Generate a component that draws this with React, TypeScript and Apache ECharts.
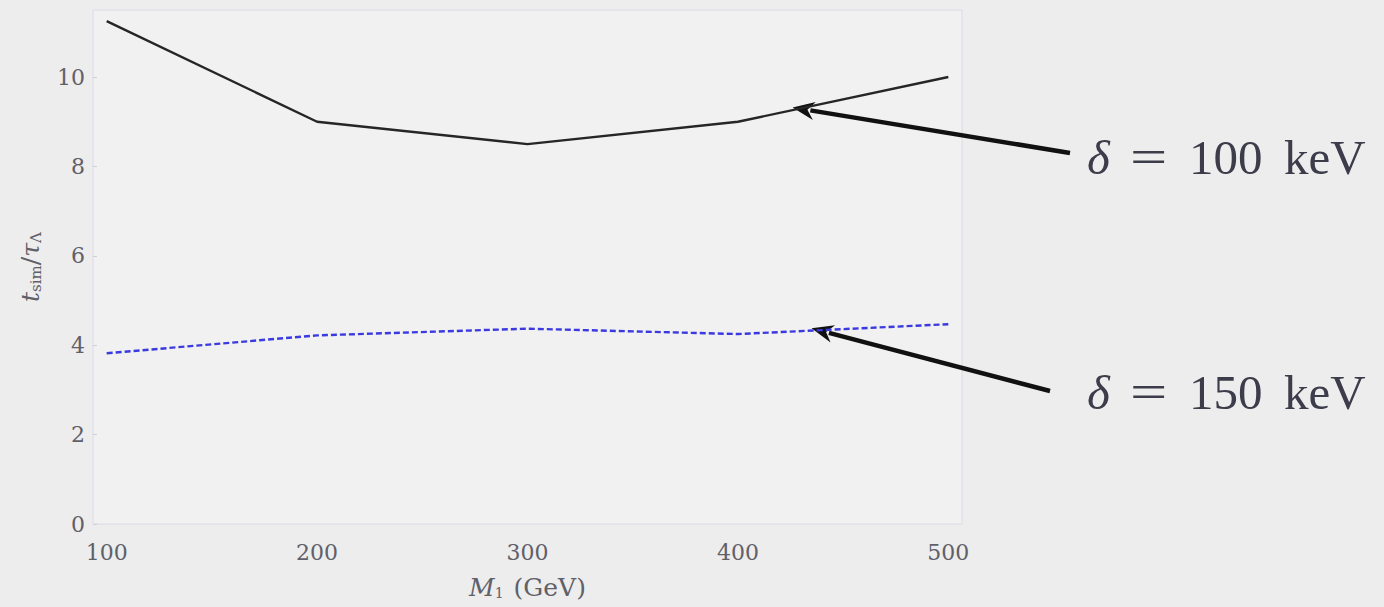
import React, { useEffect, useRef } from "react";
import * as echarts from "echarts";

const massValues = [100, 200, 300, 400, 500];
const delta100 = [11.25, 9.0, 8.5, 9.0, 10.0];
const delta150 = [3.82, 4.22, 4.37, 4.25, 4.47];
const xTickLabels = [100, 200, 300, 400, 500];
const yTickLabels = [0, 2, 4, 6, 8, 10];
const labelTop = "100 keV";
const labelBottom = "150 keV";
// arrow tips in data coordinates (point on the curves)
const arrowTipTop = [426, 9.32];
const arrowTipBottom = [435, 4.38];

const SERIF = "'Liberation Serif', 'DejaVu Serif', serif";
const TICK_FONT = "'DejaVu Serif', serif";
const TEXT_COLOR = "#3c3c4a";
const AXIS_TEXT = "#606068";

export default function App() {
  const ref = useRef<HTMLDivElement>(null);

  useEffect(() => {
    if (!ref.current) return;
    const chart = echarts.init(ref.current, undefined, { renderer: "svg" });
    const pairs = (ys: number[]) => massValues.map((x, i) => [x, ys[i]]);

    chart.setOption({
      animation: false,
      backgroundColor: "#ededed",
      grid: { left: 93, right: 422, top: 10, bottom: 83, show: true, backgroundColor: "#f1f1f1", borderColor: "#dadae6", borderWidth: 1 },
      xAxis: {
        type: "value",
        min: 93.5,
        max: 506.5,
        axisLine: { show: false },
        splitLine: { show: false },
        axisTick: { show: false },
        axisLabel: {
          customValues: xTickLabels,
          fontFamily: TICK_FONT,
          fontSize: 22,
          color: AXIS_TEXT,
          margin: 17,
        },
        name: "{i|M}{s|1} (GeV)",
        nameLocation: "middle",
        nameGap: 51,
        nameTextStyle: {
          fontFamily: TICK_FONT,
          fontSize: 25,
          color: AXIS_TEXT,
          rich: {
            i: { fontFamily: TICK_FONT, fontStyle: "italic", fontSize: 25, color: AXIS_TEXT },
            s: { fontFamily: TICK_FONT, fontSize: 14, color: AXIS_TEXT, verticalAlign: "bottom", padding: [10, 2, 0, 0] },
          },
        },
      },
      yAxis: {
        type: "value",
        min: 0,
        max: 11.5,
        axisLine: { show: false },
        splitLine: { show: false },
        axisTick: { show: true, inside: true, length: 4, customValues: yTickLabels, lineStyle: { color: "#cfcfdc" } },
        axisLabel: {
          customValues: yTickLabels,
          fontFamily: TICK_FONT,
          fontSize: 22,
          color: AXIS_TEXT,
          margin: 8,
        },
        name: "{i|t}{s|sim}{n|/}{i|τ}{s|Λ}",
        nameLocation: "middle",
        nameGap: 50,
        nameRotate: 90,
        nameTextStyle: {
          fontFamily: TICK_FONT,
          fontSize: 25,
          color: AXIS_TEXT,
          rich: {
            i: { fontFamily: TICK_FONT, fontStyle: "italic", fontSize: 25, color: AXIS_TEXT },
            n: { fontFamily: TICK_FONT, fontSize: 25, color: AXIS_TEXT },
            s: { fontFamily: TICK_FONT, fontSize: 15, color: AXIS_TEXT, verticalAlign: "bottom", padding: [10, 0, 0, 0] },
          },
        },
      },
      series: [
        {
          name: "δ = 100 keV",
          type: "line",
          data: pairs(delta100),
          showSymbol: false,
          lineStyle: { color: "#262626", width: 2.4 },
        },
        {
          name: "δ = 150 keV",
          type: "line",
          data: pairs(delta150),
          showSymbol: false,
          lineStyle: { color: "#3a3ae0", width: 2.4, type: [6, 3] },
        },
      ],
    });

    const arrow = (tip: number[], tail: number[]) => {
      const p = chart.convertToPixel({ gridIndex: 0 }, tip) as number[];
      const dx = p[0] - tail[0];
      const dy = p[1] - tail[1];
      const len = Math.sqrt(dx * dx + dy * dy);
      const ux = dx / len;
      const uy = dy / len;
      const headLen = 22;
      const headW = 9;
      const bx = p[0] - ux * headLen;
      const by = p[1] - uy * headLen;
      return [
        {
          type: "line",
          shape: { x1: tail[0], y1: tail[1], x2: bx + ux * 4, y2: by + uy * 4 },
          style: { stroke: "#111", lineWidth: 4.5 },
        },
        {
          type: "polygon",
          shape: {
            points: [
              [p[0], p[1]],
              [bx - uy * headW, by + ux * headW],
              [bx + ux * 7, by + uy * 7],
              [bx + uy * headW, by - ux * headW],
            ],
          },
          style: { fill: "#111" },
        },
      ];
    };

    const label = (y: number, value: string) => {
      const [num, unit] = value.split(" ");
      const base = { fontFamily: SERIF, fontSize: 49, fill: TEXT_COLOR, textVerticalAlign: "middle" };
      return [
        { type: "text", x: 1087, y, style: { ...base, text: "δ", fontStyle: "italic" } },
        { type: "text", x: 1130, y, scaleX: 1.35, style: { ...base, text: "=" } },
        { type: "text", x: 1189, y, style: { ...base, text: num } },
        { type: "text", x: 1284, y, style: { ...base, text: unit } },
      ];
    };

    chart.setOption({
      graphic: [
        ...arrow(arrowTipTop, [1070, 153]),
        ...arrow(arrowTipBottom, [1050, 391]),
        ...label(157, labelTop),
        ...label(392, labelBottom),
      ],
    });

    return () => chart.dispose();
  }, []);

  return <div ref={ref} style={{ position: "fixed", left: 0, top: 0, width: 1384, height: 607 }} />;
}
